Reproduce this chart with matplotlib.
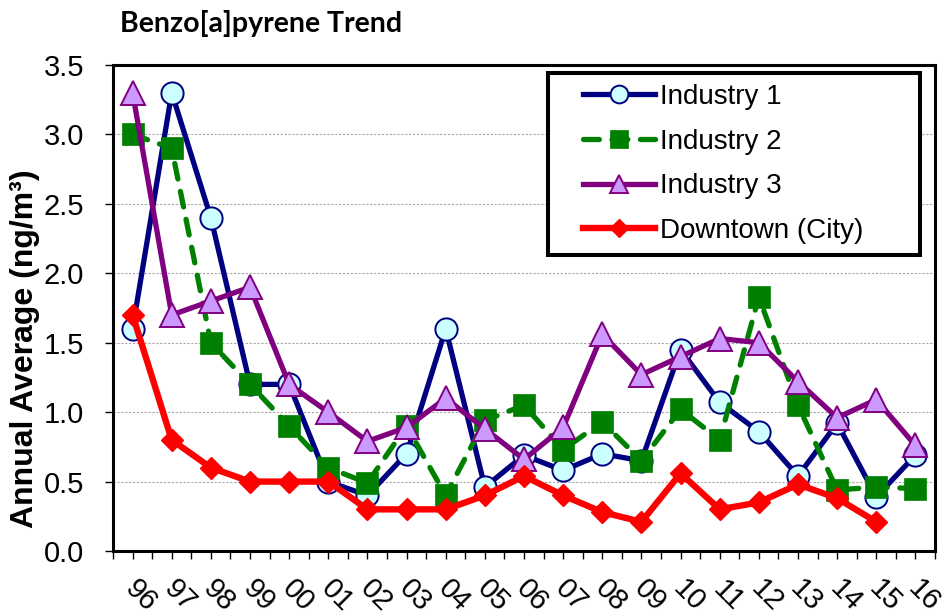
#!/usr/bin/env python3
# coding: utf-8

"""
Benzo[a]pyrene 年均浓度趋势图
"""

import numpy as np
import matplotlib.pyplot as plt
import matplotlib.transforms as mtransforms
from matplotlib.ticker import MultipleLocator
from matplotlib.legend_handler import HandlerLine2D
from matplotlib.lines import Line2D

plt.rcParams['font.family'] = ['Liberation Sans', 'DejaVu Sans']

# 年份（两位数）
years = ['96', '97', '98', '99', '00', '01', '02', '03', '04', '05', '06',
         '07', '08', '09', '10', '11', '12', '13', '14', '15', '16']

industry_1 = [1.6, 3.3, 2.4, 1.2, 1.2, 0.5, 0.4, 0.7, 1.6, 0.46, 0.69,
              0.58, 0.7, 0.65, 1.45, 1.07, 0.86, 0.54, 0.92, 0.39, 0.69]
industry_2 = [3.0, 2.9, 1.5, 1.2, 0.9, 0.6, 0.49, 0.9, 0.4, 0.94, 1.05,
              0.73, 0.93, 0.65, 1.02, 0.8, 1.83, 1.05, 0.44, 0.46, 0.45]
industry_3 = [3.3, 1.7, 1.8, 1.9, 1.2, 1.0, 0.79, 0.89, 1.1, 0.88, 0.66,
              0.89, 1.56, 1.27, 1.4, 1.53, 1.5, 1.22, 0.96, 1.09, 0.76]
downtown = [1.7, 0.8, 0.6, 0.5, 0.5, 0.5, 0.3, 0.3, 0.3, 0.4, 0.54,
            0.4, 0.28, 0.21, 0.56, 0.3, 0.35, 0.48, 0.38, 0.21, np.nan]

labels = ['Industry 1', 'Industry 2', 'Industry 3', 'Downtown (City)']


def plot_trend():
    fig = plt.figure(figsize=(9.45, 6.16), dpi=100)
    ax = fig.add_axes([0.1196, 0.1055, 0.8698, 0.789])

    x = np.arange(len(years))

    # 四条折线
    ax.plot(x, industry_1, color='#000080', lw=3.8, marker='o', ms=16,
            mfc='#CCFFFF', mec='#000080', mew=1.4, label=labels[0], zorder=3)
    ax.plot(x, industry_2, color='#008000', lw=3.8, marker='s', ms=15.5,
            mfc='#008000', mec='#008000', mew=0.5, label=labels[1],
            dashes=(3.0, 2.4), dash_capstyle='round', zorder=3)
    ax.plot(x, industry_3, color='#800080', lw=3.8, marker='^', ms=17,
            mfc='#CC99FF', mec='#800080', mew=1.4, label=labels[2], zorder=3)
    ax.plot(x, downtown, color='#FF0000', lw=4.6, marker='D', ms=11.5,
            mfc='#FF0000', mec='#FF0000', label=labels[3], zorder=3)

    # 坐标轴范围和刻度
    ax.set_xlim(-0.5, len(years) - 0.5)
    ax.set_ylim(0, 3.5)
    ax.yaxis.set_major_locator(MultipleLocator(0.5))
    ax.yaxis.set_major_formatter(plt.FormatStrFormatter('%.1f'))
    ax.set_xticks(x)
    ax.set_xticks(np.arange(-0.5, len(years), 1), minor=True)
    ax.set_xticklabels(years, rotation=-45, ha='center', va='center',
                       rotation_mode='anchor', fontsize=21)
    ax.tick_params(axis='x', which='both', direction='out', length=5.4,
                   width=1, pad=27)
    ax.tick_params(axis='y', direction='out', length=5.8, width=1,
                   labelsize=21, pad=15)

    # x 轴标签整体右移
    offset = mtransforms.ScaledTranslation(6 / 72, 0, fig.dpi_scale_trans)
    for lab in ax.get_xticklabels():
        lab.set_transform(lab.get_transform() + offset)

    # 网格线
    ax.grid(axis='y', color='#A6A6A6', linestyle=(0, (2, 1.5)), lw=0.8)
    ax.set_axisbelow(True)

    for sp in ax.spines.values():
        sp.set_linewidth(2.2)
        sp.set_color('black')

    # y 轴标题
    fig.text(25 / 945, 1 - 349 / 616, 'Annual Average (ng/m³)', fontsize=23,
             fontweight='bold', rotation=90, ha='center', va='center')

    # 图例
    leg = ax.legend(loc='upper left', bbox_to_anchor=(0.529, 0.5, 0.4526, 0.4835),
                    mode='expand', fontsize=20, frameon=True, fancybox=False,
                    handlelength=3.45, handletextpad=0.18, labelspacing=0.67,
                    borderpad=0.4, borderaxespad=0, markerscale=0.8,
                    handler_map={Line2D: HandlerLine2D(xpad=0.85)})
    leg.get_frame().set_edgecolor('black')
    leg.get_frame().set_linewidth(2.9)
    leg.get_frame().set_alpha(1)

    # 标题
    fig.text(0.127, 0.962, 'Benzo[a]pyrene Trend', fontsize=20.5,
             fontweight='bold', family=['Lato', 'DejaVu Sans'],
             ha='left', va='center')

    plt.savefig('out.png', dpi=100)


if __name__ == '__main__':
    plot_trend()
